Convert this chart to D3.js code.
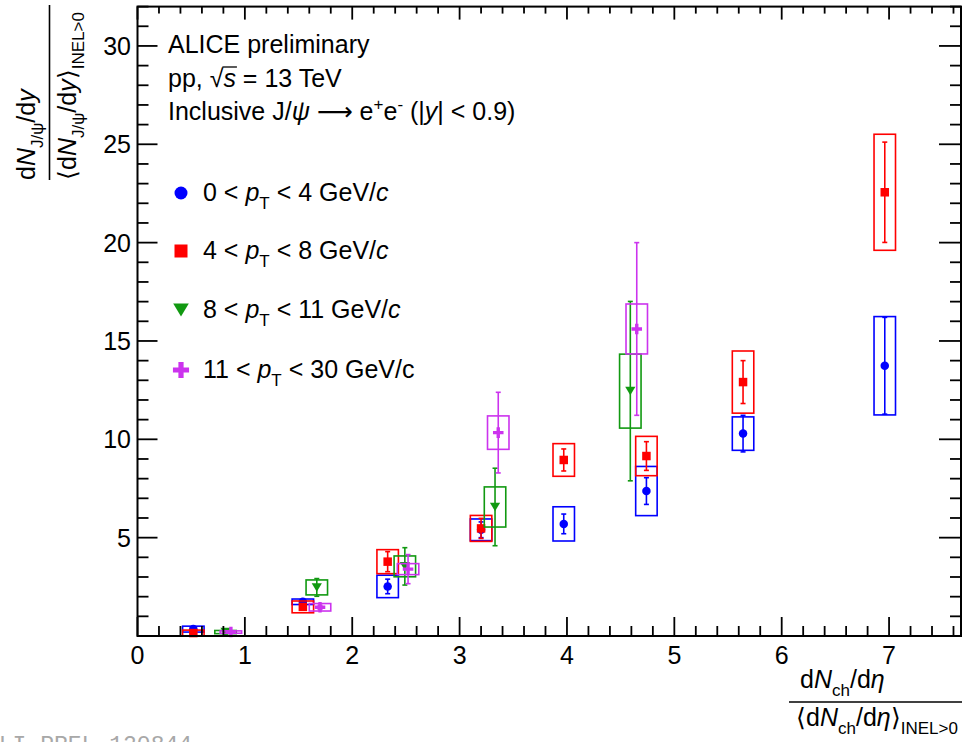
<!DOCTYPE html>
<html>
<head>
<meta charset="utf-8">
<script src="https://cdn.jsdelivr.net/npm/d3@7"></script>
<style>
  body { margin: 0; background: #fff; }
  svg { display: block; }
  text { font-family: "Liberation Sans", Arial, Helvetica, sans-serif; fill: #000; }
</style>
</head>
<body>
<svg id="chart" width="964" height="742"></svg>
<script>
// ---- data -------------------------------------------------------------
const xTickValues = [0, 1, 2, 3, 4, 5, 6, 7];
const xTickLabels = ["0", "1", "2", "3", "4", "5", "6", "7"];
const yTickValues = [5, 10, 15, 20, 25, 30];
const yTickLabels = ["5", "10", "15", "20", "25", "30"];

// multiplicity bins shared by the two low-pT classes
const xLowPt = [0.52, 1.54, 2.33, 3.20, 3.97, 4.74, 5.64, 6.96];

// 0 < pT < 4 GeV/c
const yBin1    = [0.35, 1.74, 2.52, 5.40, 5.70, 7.37, 10.29, 13.74];
const statBin1 = [0.08, 0.10, 0.37, 0.40, 0.50, 0.68, 0.93, 2.46];
const sysBin1  = [0.15, 0.14, 0.57, 0.55, 0.87, 1.25, 0.85, 2.50];

// 4 < pT < 8 GeV/c
const yBin2    = [0.15, 1.48, 3.78, 5.47, 8.95, 9.15, 12.91, 22.56];
const statBin2 = [0.08, 0.12, 0.51, 0.51, 0.56, 0.73, 1.09, 2.55];
const sysBin2  = [0.15, 0.30, 0.61, 0.66, 0.83, 1.00, 1.58, 2.95];

// 8 < pT < 11 GeV/c
const xBin3    = [0.82, 1.67, 2.49, 3.33, 4.59];
const yBin3    = [0.20, 2.47, 3.54, 6.56, 12.45];
const statBin3 = [0.10, 0.45, 0.95, 1.97, 4.56];
const sysBin3  = [0.08, 0.38, 0.53, 1.02, 1.88];

// 11 < pT < 30 GeV/c
const xBin4    = [0.87, 1.70, 2.52, 3.36, 4.65];
const yBin4    = [0.20, 1.46, 3.40, 10.34, 15.61];
const statBin4 = [0.06, 0.10, 0.74, 2.05, 4.39];
const sysBin4  = [0.06, 0.19, 0.28, 0.85, 1.27];

const boxHalfWidth = 0.1;

const series = [
  { x: xLowPt, y: yBin1, stat: statBin1, sys: sysBin1, color: "#0000ff", marker: "circle",
    label: [{t: "0 < "}, {t: "p", i: 1}, {t: "T", sub: 1}, {t: " < 4 GeV/"}, {t: "c", i: 1}] },
  { x: xLowPt, y: yBin2, stat: statBin2, sys: sysBin2, color: "#ff0000", marker: "square",
    label: [{t: "4 < "}, {t: "p", i: 1}, {t: "T", sub: 1}, {t: " < 8 GeV/"}, {t: "c", i: 1}] },
  { x: xBin3, y: yBin3, stat: statBin3, sys: sysBin3, color: "#119911", marker: "triangle",
    label: [{t: "8 < "}, {t: "p", i: 1}, {t: "T", sub: 1}, {t: " < 11 GeV/"}, {t: "c", i: 1}] },
  { x: xBin4, y: yBin4, stat: statBin4, sys: sysBin4, color: "#cc33ee", marker: "cross",
    label: [{t: "11 < "}, {t: "p", i: 1}, {t: "T", sub: 1}, {t: " < 30 GeV/c"}] }
];

// ---- layout -----------------------------------------------------------
const svg = d3.select("#chart");
const frame = { left: 137.5, right: 961, top: 6.6, bottom: 636 };
const x = d3.scaleLinear().domain([0, 7.67]).range([frame.left, frame.right]);
const y = d3.scaleLinear().domain([0, 32]).range([frame.bottom, frame.top]);
const FS = 25;

// rich text: segments with italic / subscript / superscript
function rich(sel, segs, size) {
  let prev = 0;
  segs.forEach(s => {
    const shift = s.sub ? size * 0.32 : s.sup ? -size * 0.42 : 0;
    const ts = sel.append("tspan")
      .attr("dy", shift - prev)
      .style("font-size", (s.sub || s.sup ? size * 0.68 : size) + "px")
      .style("font-style", s.i ? "italic" : "normal")
      .text(s.t);
    if (s.font) ts.style("font-family", s.font);
    if (s.id) ts.attr("class", s.id);
    prev = shift;
  });
  return sel;
}

// ---- data marks ---------------------------------------------------------
const plot = svg.append("g");

function drawMarker(g, type, cx, cy, size, color) {
  const h = size / 2;
  if (type === "circle") {
    g.append("circle").attr("cx", cx).attr("cy", cy).attr("r", h).attr("fill", color);
  } else if (type === "square") {
    g.append("rect").attr("x", cx - h).attr("y", cy - h).attr("width", size).attr("height", size).attr("fill", color);
  } else if (type === "triangle") {
    const w = size * 0.6, t = size * 0.5;
    g.append("path").attr("d", `M${cx - w},${cy - t}L${cx + w},${cy - t}L${cx},${cy + t}Z`).attr("fill", color);
  } else if (type === "cross") {
    const a = size * 0.62, b = size * 0.2;
    g.append("path").attr("d",
      `M${cx - b},${cy - a}H${cx + b}V${cy - b}H${cx + a}V${cy + b}H${cx + b}V${cy + a}H${cx - b}V${cy + b}H${cx - a}V${cy - b}H${cx - b}Z`)
      .attr("fill", color);
  }
}

series.forEach(s => {
  const g = plot.append("g");
  s.x.forEach((xv, i) => {
    const yv = s.y[i], st = s.stat[i], sy = s.sys[i];
    // systematic box
    g.append("rect")
      .attr("x", x(xv - boxHalfWidth)).attr("y", y(yv + sy))
      .attr("width", x(xv + boxHalfWidth) - x(xv - boxHalfWidth))
      .attr("height", y(yv - sy) - y(yv + sy))
      .attr("fill", "none").attr("stroke", s.color).attr("stroke-width", 1.6);
    // statistical error bar with caps
    const px = x(xv);
    g.append("line").attr("x1", px).attr("x2", px).attr("y1", y(yv - st)).attr("y2", y(yv + st))
      .attr("stroke", s.color).attr("stroke-width", 1.6);
    [yv - st, yv + st].forEach(e => {
      g.append("line").attr("x1", px - 2.5).attr("x2", px + 2.5).attr("y1", y(e)).attr("y2", y(e))
        .attr("stroke", s.color).attr("stroke-width", 1.6);
    });
    drawMarker(g, s.marker, px, y(yv), 8.5, s.color);
  });
});

// ---- frame and ticks ----------------------------------------------------
const axes = svg.append("g").attr("stroke", "#000").attr("stroke-width", 1.8);
const xMinor = d3.range(0, 7.67, 0.2).filter(v => Math.abs(v - Math.round(v)) > 1e-6);
const yMinor = d3.range(0, 32.01, 1).filter(v => v % 5 !== 0);

xTickValues.forEach(v => {
  axes.append("line").attr("x1", x(v)).attr("x2", x(v)).attr("y1", frame.bottom).attr("y2", frame.bottom - 19);
  axes.append("line").attr("x1", x(v)).attr("x2", x(v)).attr("y1", frame.top).attr("y2", frame.top + 13);
});
xMinor.forEach(v => {
  axes.append("line").attr("x1", x(v)).attr("x2", x(v)).attr("y1", frame.bottom).attr("y2", frame.bottom - 10);
  axes.append("line").attr("x1", x(v)).attr("x2", x(v)).attr("y1", frame.top).attr("y2", frame.top + 7);
});
[0].concat(yTickValues).forEach(v => {
  axes.append("line").attr("x1", frame.left).attr("x2", frame.left + 20).attr("y1", y(v)).attr("y2", y(v));
  axes.append("line").attr("x1", frame.right).attr("x2", frame.right - 22).attr("y1", y(v)).attr("y2", y(v));
});
yMinor.forEach(v => {
  axes.append("line").attr("x1", frame.left).attr("x2", frame.left + 11).attr("y1", y(v)).attr("y2", y(v));
  axes.append("line").attr("x1", frame.right).attr("x2", frame.right - 11).attr("y1", y(v)).attr("y2", y(v));
});
axes.append("rect")
  .attr("x", frame.left).attr("y", frame.top)
  .attr("width", frame.right - frame.left).attr("height", frame.bottom - frame.top)
  .attr("fill", "none").attr("stroke-width", 2);

// tick labels
svg.append("g").selectAll("text").data(xTickValues).join("text")
  .attr("x", d => x(d)).attr("y", 664)
  .attr("text-anchor", "middle").style("font-size", FS + "px")
  .text((d, i) => xTickLabels[i]);
svg.append("g").selectAll("text").data(yTickValues).join("text")
  .attr("x", 131).attr("y", d => y(d) + 9)
  .attr("text-anchor", "end").style("font-size", FS + "px")
  .text((d, i) => yTickLabels[i]);

// ---- axis titles ------------------------------------------------------
// x title as a fraction
rich(svg.append("text").attr("x", 800).attr("y", 688),
  [{t: "d"}, {t: "N", i: 1}, {t: "ch", sub: 1}, {t: "/d"}, {t: "η", i: 1}], FS);
svg.append("line").attr("x1", 789).attr("x2", 962).attr("y1", 702).attr("y2", 702)
  .attr("stroke", "#000").attr("stroke-width", 1.6);
rich(svg.append("text").attr("x", 796).attr("y", 726),
  [{t: "⟨d"}, {t: "N", i: 1}, {t: "ch", sub: 1}, {t: "/d"}, {t: "η", i: 1}, {t: "⟩"}, {t: "INEL>0", sub: 1}], FS);

// y title as a rotated fraction
const yt = svg.append("g").attr("transform", "translate(0,180) rotate(-90)");
rich(yt.append("text").attr("x", 0).attr("y", 35),
  [{t: "d"}, {t: "N", i: 1}, {t: "J/ψ", sub: 1}, {t: "/d"}, {t: "y", i: 1}], FS);
yt.append("line").attr("x1", 0).attr("x2", 175).attr("y1", 49.5).attr("y2", 49.5)
  .attr("stroke", "#000").attr("stroke-width", 1.6);
rich(yt.append("text").attr("x", 0).attr("y", 76),
  [{t: "⟨d"}, {t: "N", i: 1}, {t: "J/ψ", sub: 1}, {t: "/d"}, {t: "y", i: 1}, {t: "⟩"}, {t: "INEL>0", sub: 1}], FS);

// ---- header text --------------------------------------------------------
svg.append("text").attr("x", 168).attr("y", 53).style("font-size", FS + "px").text("ALICE preliminary");
const ppText = rich(svg.append("text").attr("x", 168).attr("y", 87),
  [{t: "pp, √"}, {t: "s", i: 1, id: "sq"}, {t: " = 13 TeV"}], FS);
const sNode = ppText.select("tspan.sq").node();
if (sNode) {
  const bb = sNode.getBBox();
  svg.append("line").attr("x1", bb.x - 1).attr("x2", bb.x + bb.width + 1)
    .attr("y1", bb.y + 3).attr("y2", bb.y + 3).attr("stroke", "#000").attr("stroke-width", 1.3);
}
rich(svg.append("text").attr("x", 168).attr("y", 120),
  [{t: "Inclusive J/"}, {t: "ψ", i: 1}, {t: " "}, {t: "⟶", font: "'DejaVu Sans', sans-serif"}, {t: " e"},
   {t: "+", sup: 1}, {t: "e"}, {t: "-", sup: 1},
   {t: " (|"}, {t: "y", i: 1}, {t: "| < 0.9)"}], FS);

// ---- legend -------------------------------------------------------------
const legendRows = [193, 251, 310, 370];
series.forEach((s, i) => {
  const g = svg.append("g");
  drawMarker(g, s.marker, 181, legendRows[i], 13, s.color);
  rich(g.append("text").attr("x", 203).attr("y", legendRows[i] + 8), s.label, FS);
});

// ---- figure id ------------------------------------------------------------
svg.append("text").attr("x", -15).attr("y", 752)
  .style("font-family", "'Liberation Mono', 'DejaVu Sans Mono', monospace")
  .style("font-size", "23px").style("fill", "#a8a8a8")
  .text("ALI-PREL-120844");
</script>
</body>
</html>
